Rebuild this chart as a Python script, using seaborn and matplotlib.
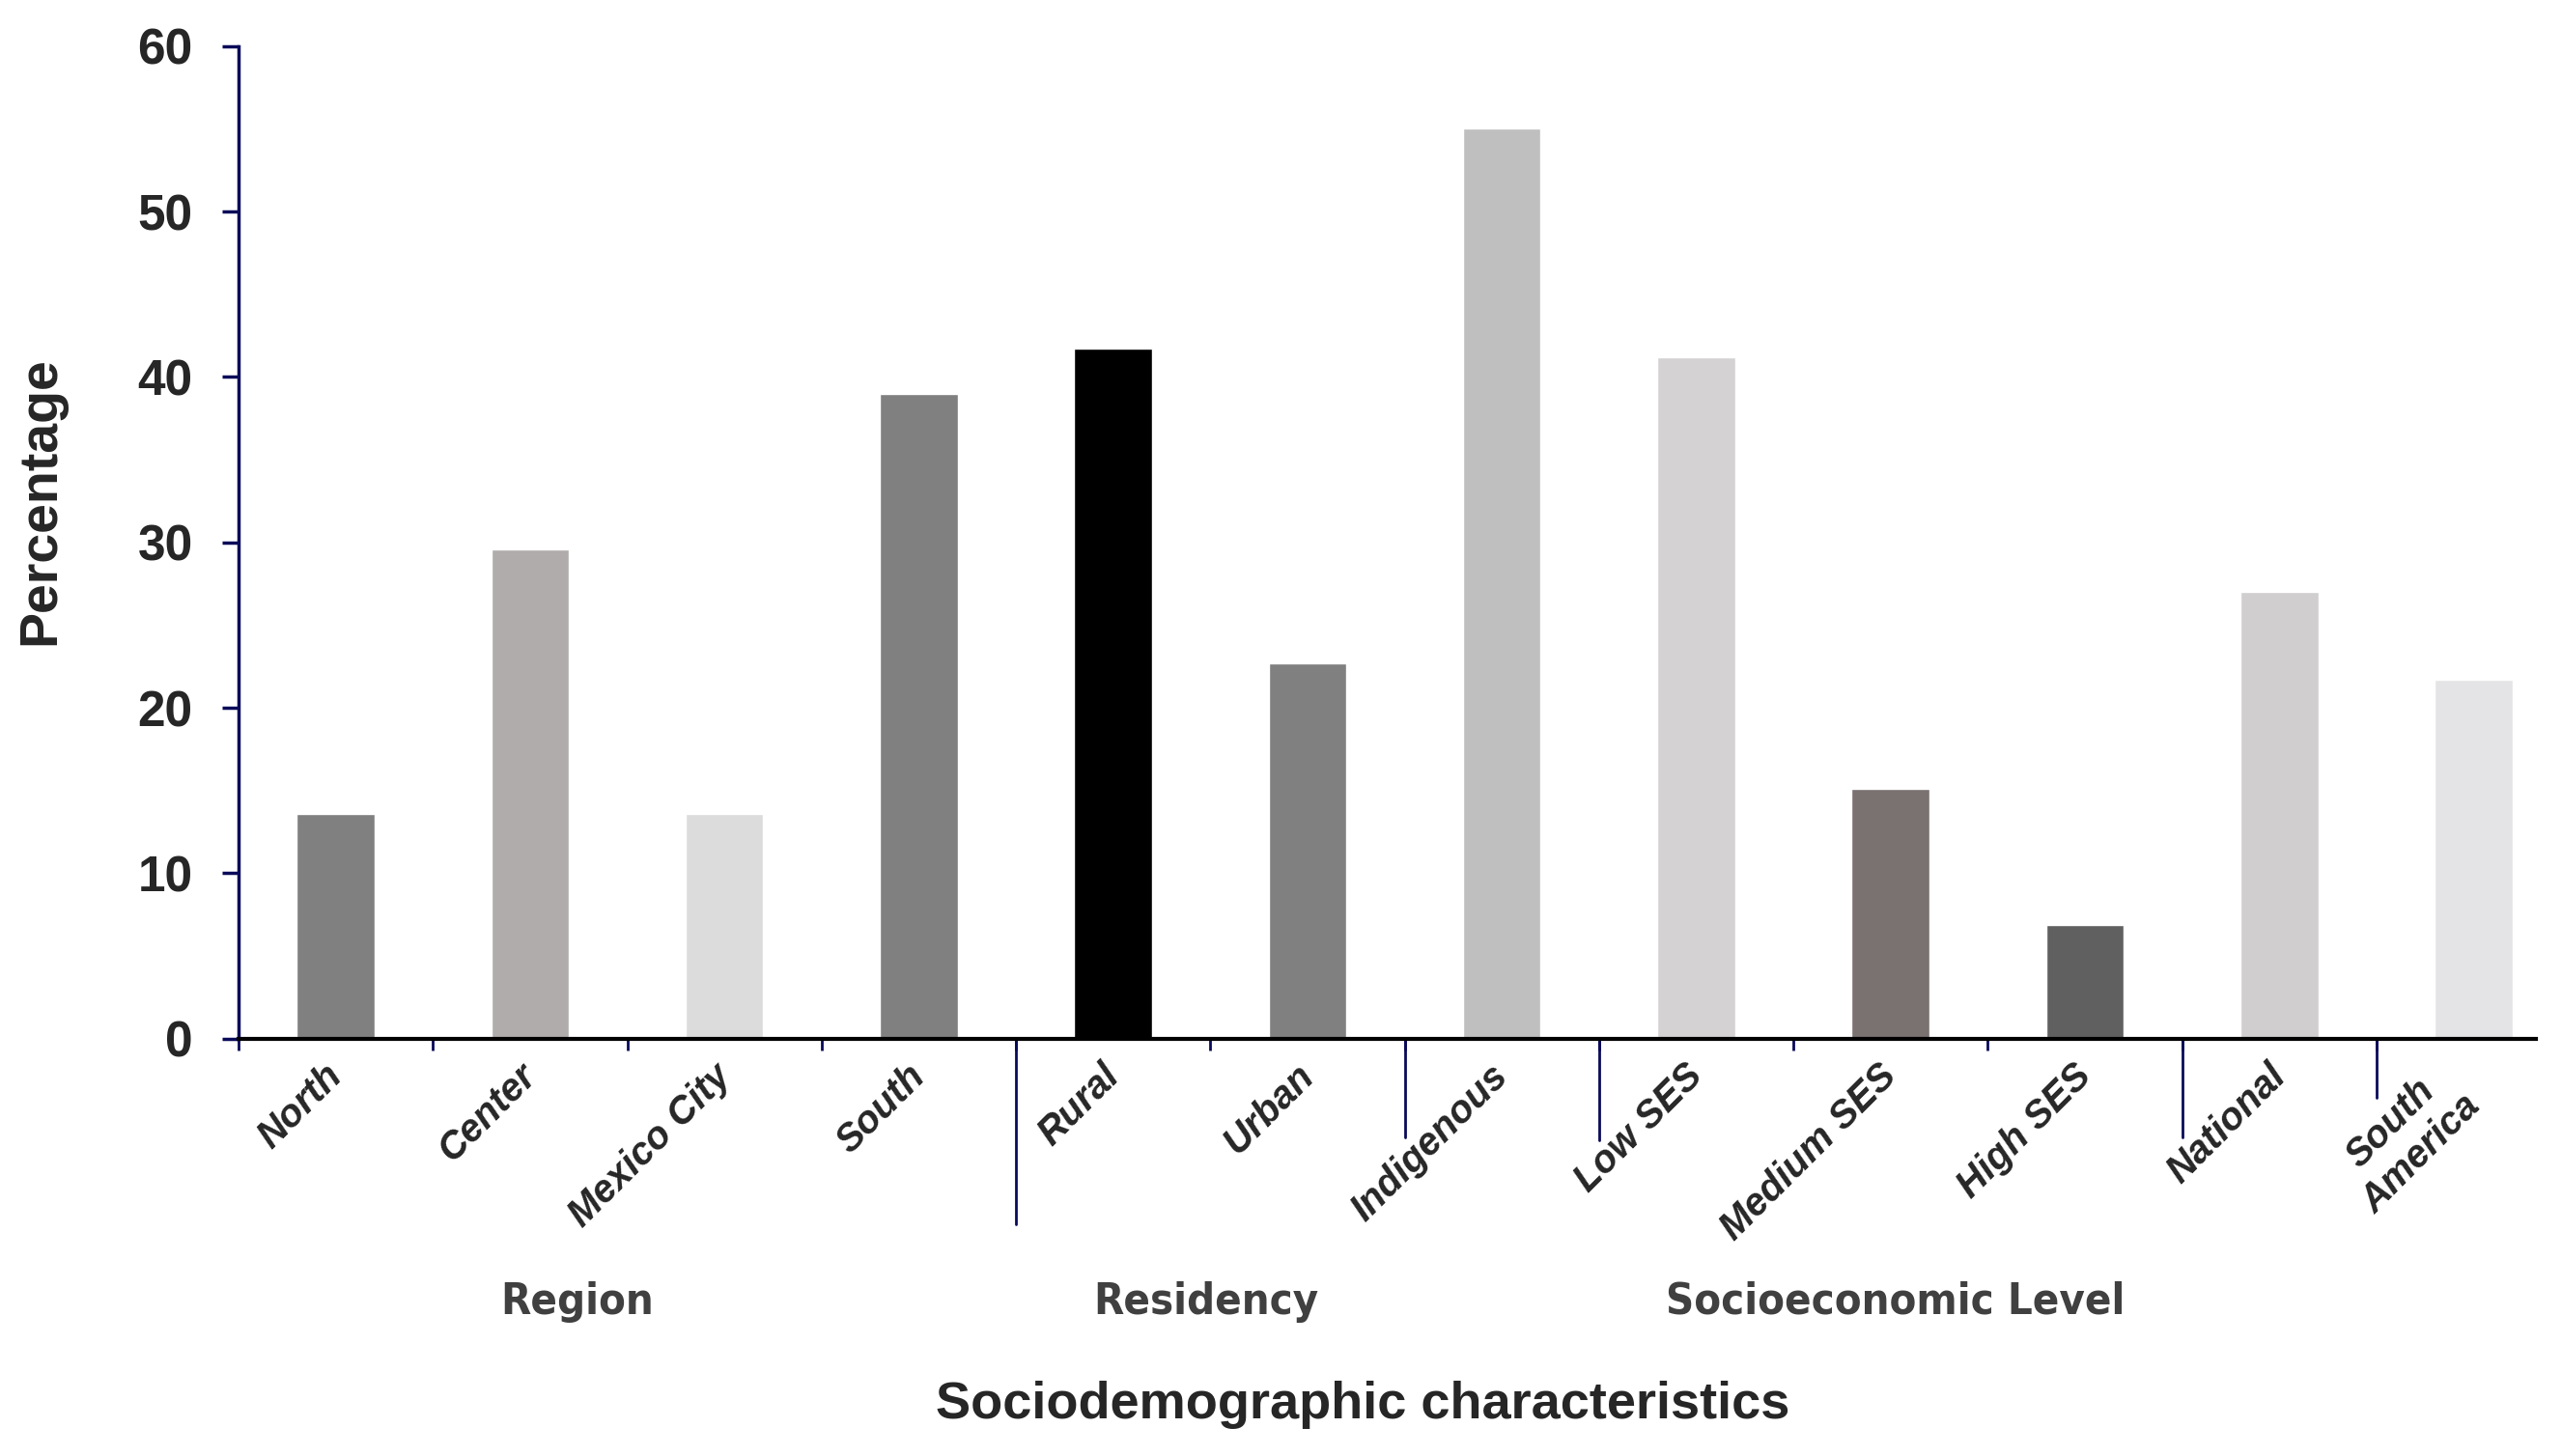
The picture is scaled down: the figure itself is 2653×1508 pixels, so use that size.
#-- prevalence by sociodemographic characteristics --
import matplotlib
matplotlib.use('Agg')
import matplotlib.pyplot as plt
import matplotlib.transforms as mtransforms
import pandas as pd
import seaborn as sns

#--data--
categories = ['North', 'Center', 'Mexico City', 'South', 'Rural', 'Urban', 'Indigenous',
              'Low SES', 'Medium SES', 'High SES', 'National', 'South\nAmerica']
values = [13.6, 29.6, 13.6, 39.0, 41.7, 22.7, 55.0, 41.2, 15.1, 6.9, 27.0, 21.7]
bar_colors = ['#808080', '#b0acab', '#dcdcdc', '#808080', '#000000', '#808080', '#bfbfbf',
              '#d4d2d2', '#7a7171', '#606060', '#d0cecf', '#e4e4e6']
groups = ['Region', 'Residency', 'Socioeconomic Level']
# boundaries (between categories) that carry a long separator line, and how far it drops
sep_bounds = [4, 6, 7, 10, 11]
sep_drop = [0.187, 0.099, 0.102, 0.099, 0.060]

sns.set_style('white')
plt.rcParams['font.family'] = ['Liberation Sans', 'DejaVu Sans']

df = pd.DataFrame({'cat': categories, 'val': values})

fig = plt.figure(figsize=(26.53, 15.08), dpi=100)
ax = fig.add_axes([0.0931, 0.2866, 0.8967, 0.6818])

sns.barplot(data=df, x='cat', y='val', hue='cat', palette=bar_colors, legend=False,
            width=0.4, saturation=1, ax=ax)

ax.set_ylim(0, 60)
ax.set_xlim(-0.5, 11.32)
ax.set_yticks(range(0, 61, 10))
ax.tick_params(axis='y', length=12, width=2.5, color='#0a0a5a', pad=22,
               labelsize=37, left=True)
for lab in ax.get_yticklabels():
    lab.set_fontweight('bold')

# category labels at bar centres, short ticks at the boundaries
ax.set_xticks(range(len(categories)))
ax.set_xticklabels(categories, rotation=45, ha='right', va='top',
                   fontsize=28.5, fontweight='bold', fontstyle='italic')
ax.tick_params(axis='x', which='major', length=0, pad=14)
shift = mtransforms.ScaledTranslation(0.14, 0, fig.dpi_scale_trans)
for lab in ax.get_xticklabels():
    lab.set_transform(lab.get_transform() + shift)
    lab.set_multialignment('center')
ax.set_xticks([b - 0.5 for b in range(len(categories))], minor=True)
ax.tick_params(axis='x', which='minor', bottom=True, length=8.6, width=2, color='#0a0a5a')

for b, d in zip(sep_bounds, sep_drop):
    ax.plot([b - 0.5, b - 0.5], [0, -d], transform=ax.get_xaxis_transform(),
            color='#0a0a5a', lw=2, clip_on=False)

sns.despine(ax=ax)
ax.spines['left'].set_color('#0a0a5a')
ax.spines['left'].set_linewidth(2.5)
ax.spines['bottom'].set_color('black')
ax.spines['bottom'].set_linewidth(3)
ax.set_xlabel('')
ax.set_ylabel('')

# group labels and axis titles
for g, gx in zip(groups, [0.2251, 0.4707, 0.7398]):
    fig.text(gx, 0.106, g, ha='center', va='center', fontsize=32.5, fontweight='bold',
             color='#404040', family='DejaVu Sans', fontstretch='condensed')
fig.text(0.532, 0.035, 'Sociodemographic characteristics', ha='center', va='center',
         fontsize=39, fontweight='bold')
fig.text(0.016, 0.656, 'Percentage', ha='center', va='center', rotation=90,
         fontsize=40, fontweight='bold')

fig.savefig('out.png', dpi=100, facecolor='white')
